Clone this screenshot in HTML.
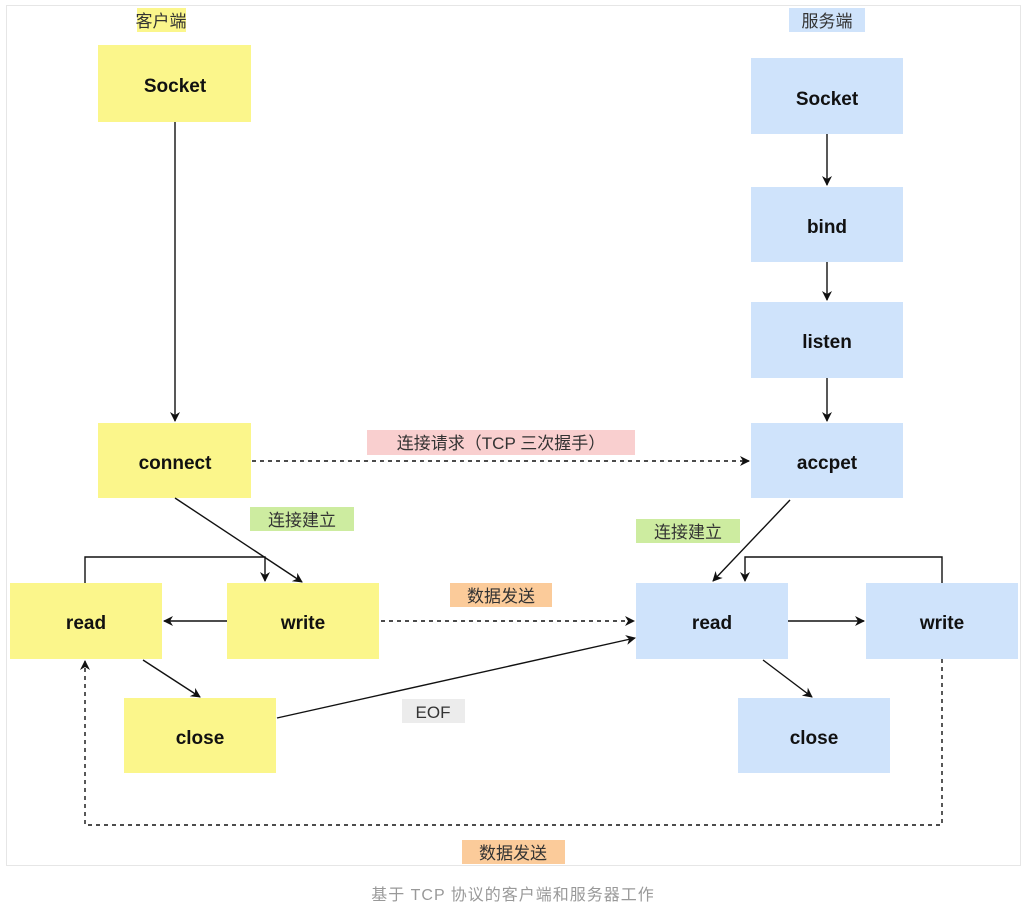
<!DOCTYPE html>
<html><head><meta charset="utf-8"><style>
body{margin:0;background:#fff}
svg text{font-family:"Liberation Sans","Noto Sans CJK SC",sans-serif}
.n{font-family:"Comic Sans MS","Liberation Sans",sans-serif;font-weight:bold;font-size:19px;fill:#111}
.l{font-size:17px;fill:#333}
</style></head><body>
<svg width="1026" height="909" viewBox="0 0 1026 909">
<defs><marker id="a" markerWidth="10" markerHeight="10" refX="9" refY="5" orient="auto" markerUnits="userSpaceOnUse"><path d="M0,0 L10,5 L0,10 L3,5z" fill="#111"/></marker></defs>
<rect x="6.5" y="5.5" width="1014" height="860" fill="#fff" stroke="#e6e6e6"/>
<g fill="#fbf68b">
<rect x="98" y="45" width="153" height="77"/><rect x="98" y="423" width="153" height="75"/>
<rect x="10" y="583" width="152" height="76"/><rect x="227" y="583" width="152" height="76"/>
<rect x="124" y="698" width="152" height="75"/>
</g>
<g fill="#cfe3fb">
<rect x="751" y="58" width="152" height="76"/><rect x="751" y="187" width="152" height="75"/>
<rect x="751" y="302" width="152" height="76"/><rect x="751" y="423" width="152" height="75"/>
<rect x="636" y="583" width="152" height="76"/><rect x="866" y="583" width="152" height="76"/>
<rect x="738" y="698" width="152" height="75"/>
</g>
<g text-anchor="middle" class="n">
<text class="n" x="175" y="92">Socket</text><text class="n" x="175" y="469">connect</text>
<text class="n" x="86" y="629">read</text><text class="n" x="303" y="629">write</text>
<text class="n" x="200" y="744">close</text>
<text class="n" x="827" y="105">Socket</text><text class="n" x="827" y="233">bind</text>
<text class="n" x="827" y="348">listen</text><text class="n" x="827" y="469">accpet</text>
<text class="n" x="712" y="629">read</text><text class="n" x="942" y="629">write</text>
<text class="n" x="814" y="744">close</text>
</g>
<rect x="137" y="8" width="49" height="24" fill="#fbf68b"/><text class="l" x="161" y="27" text-anchor="middle">客户端</text>
<rect x="789" y="8" width="76" height="24" fill="#cfe3fb"/><text class="l" x="827" y="27" text-anchor="middle">服务端</text>
<rect x="367" y="430" width="268" height="25" fill="#f9cfcf"/><text class="l" x="501" y="449" text-anchor="middle">连接请求（TCP 三次握手）</text>
<rect x="250" y="507" width="104" height="24" fill="#cdeca0"/><text class="l" x="302" y="526" text-anchor="middle">连接建立</text>
<rect x="636" y="519" width="104" height="24" fill="#cdeca0"/><text class="l" x="688" y="538" text-anchor="middle">连接建立</text>
<rect x="450" y="583" width="102" height="24" fill="#fbcb9a"/><text class="l" x="501" y="602" text-anchor="middle">数据发送</text>
<rect x="402" y="699" width="63" height="24" fill="#ececec"/><text class="l" x="433" y="718" text-anchor="middle">EOF</text>
<rect x="462" y="840" width="103" height="24" fill="#fbcb9a"/><text class="l" x="513" y="859" text-anchor="middle">数据发送</text>
<text x="513" y="900" text-anchor="middle" font-size="16" fill="#999" letter-spacing="1">基于 TCP 协议的客户端和服务器工作</text>
<g stroke="#111" stroke-width="1.4" fill="none" marker-end="url(#a)">
<line x1="175" y1="122" x2="175" y2="421"/>
<line x1="175" y1="498" x2="302" y2="582"/>
<polyline points="85,583 85,557 265,557 265,581"/>
<line x1="227" y1="621" x2="164" y2="621"/>
<line x1="143" y1="660" x2="200" y2="697"/>
<line x1="277" y1="718" x2="635" y2="638"/>
<line x1="827" y1="134" x2="827" y2="185"/>
<line x1="827" y1="262" x2="827" y2="300"/>
<line x1="827" y1="378" x2="827" y2="421"/>
<line x1="790" y1="500" x2="713" y2="581"/>
<line x1="788" y1="621" x2="864" y2="621"/>
<polyline points="942,583 942,557 745,557 745,581"/>
<line x1="763" y1="660" x2="812" y2="697"/>
<g stroke-dasharray="4,4">
<line x1="252" y1="461" x2="749" y2="461"/>
<line x1="381" y1="621" x2="634" y2="621"/>
<polyline points="942,659 942,825 85,825 85,661"/>
</g>
</g>
</svg>
</body></html>
